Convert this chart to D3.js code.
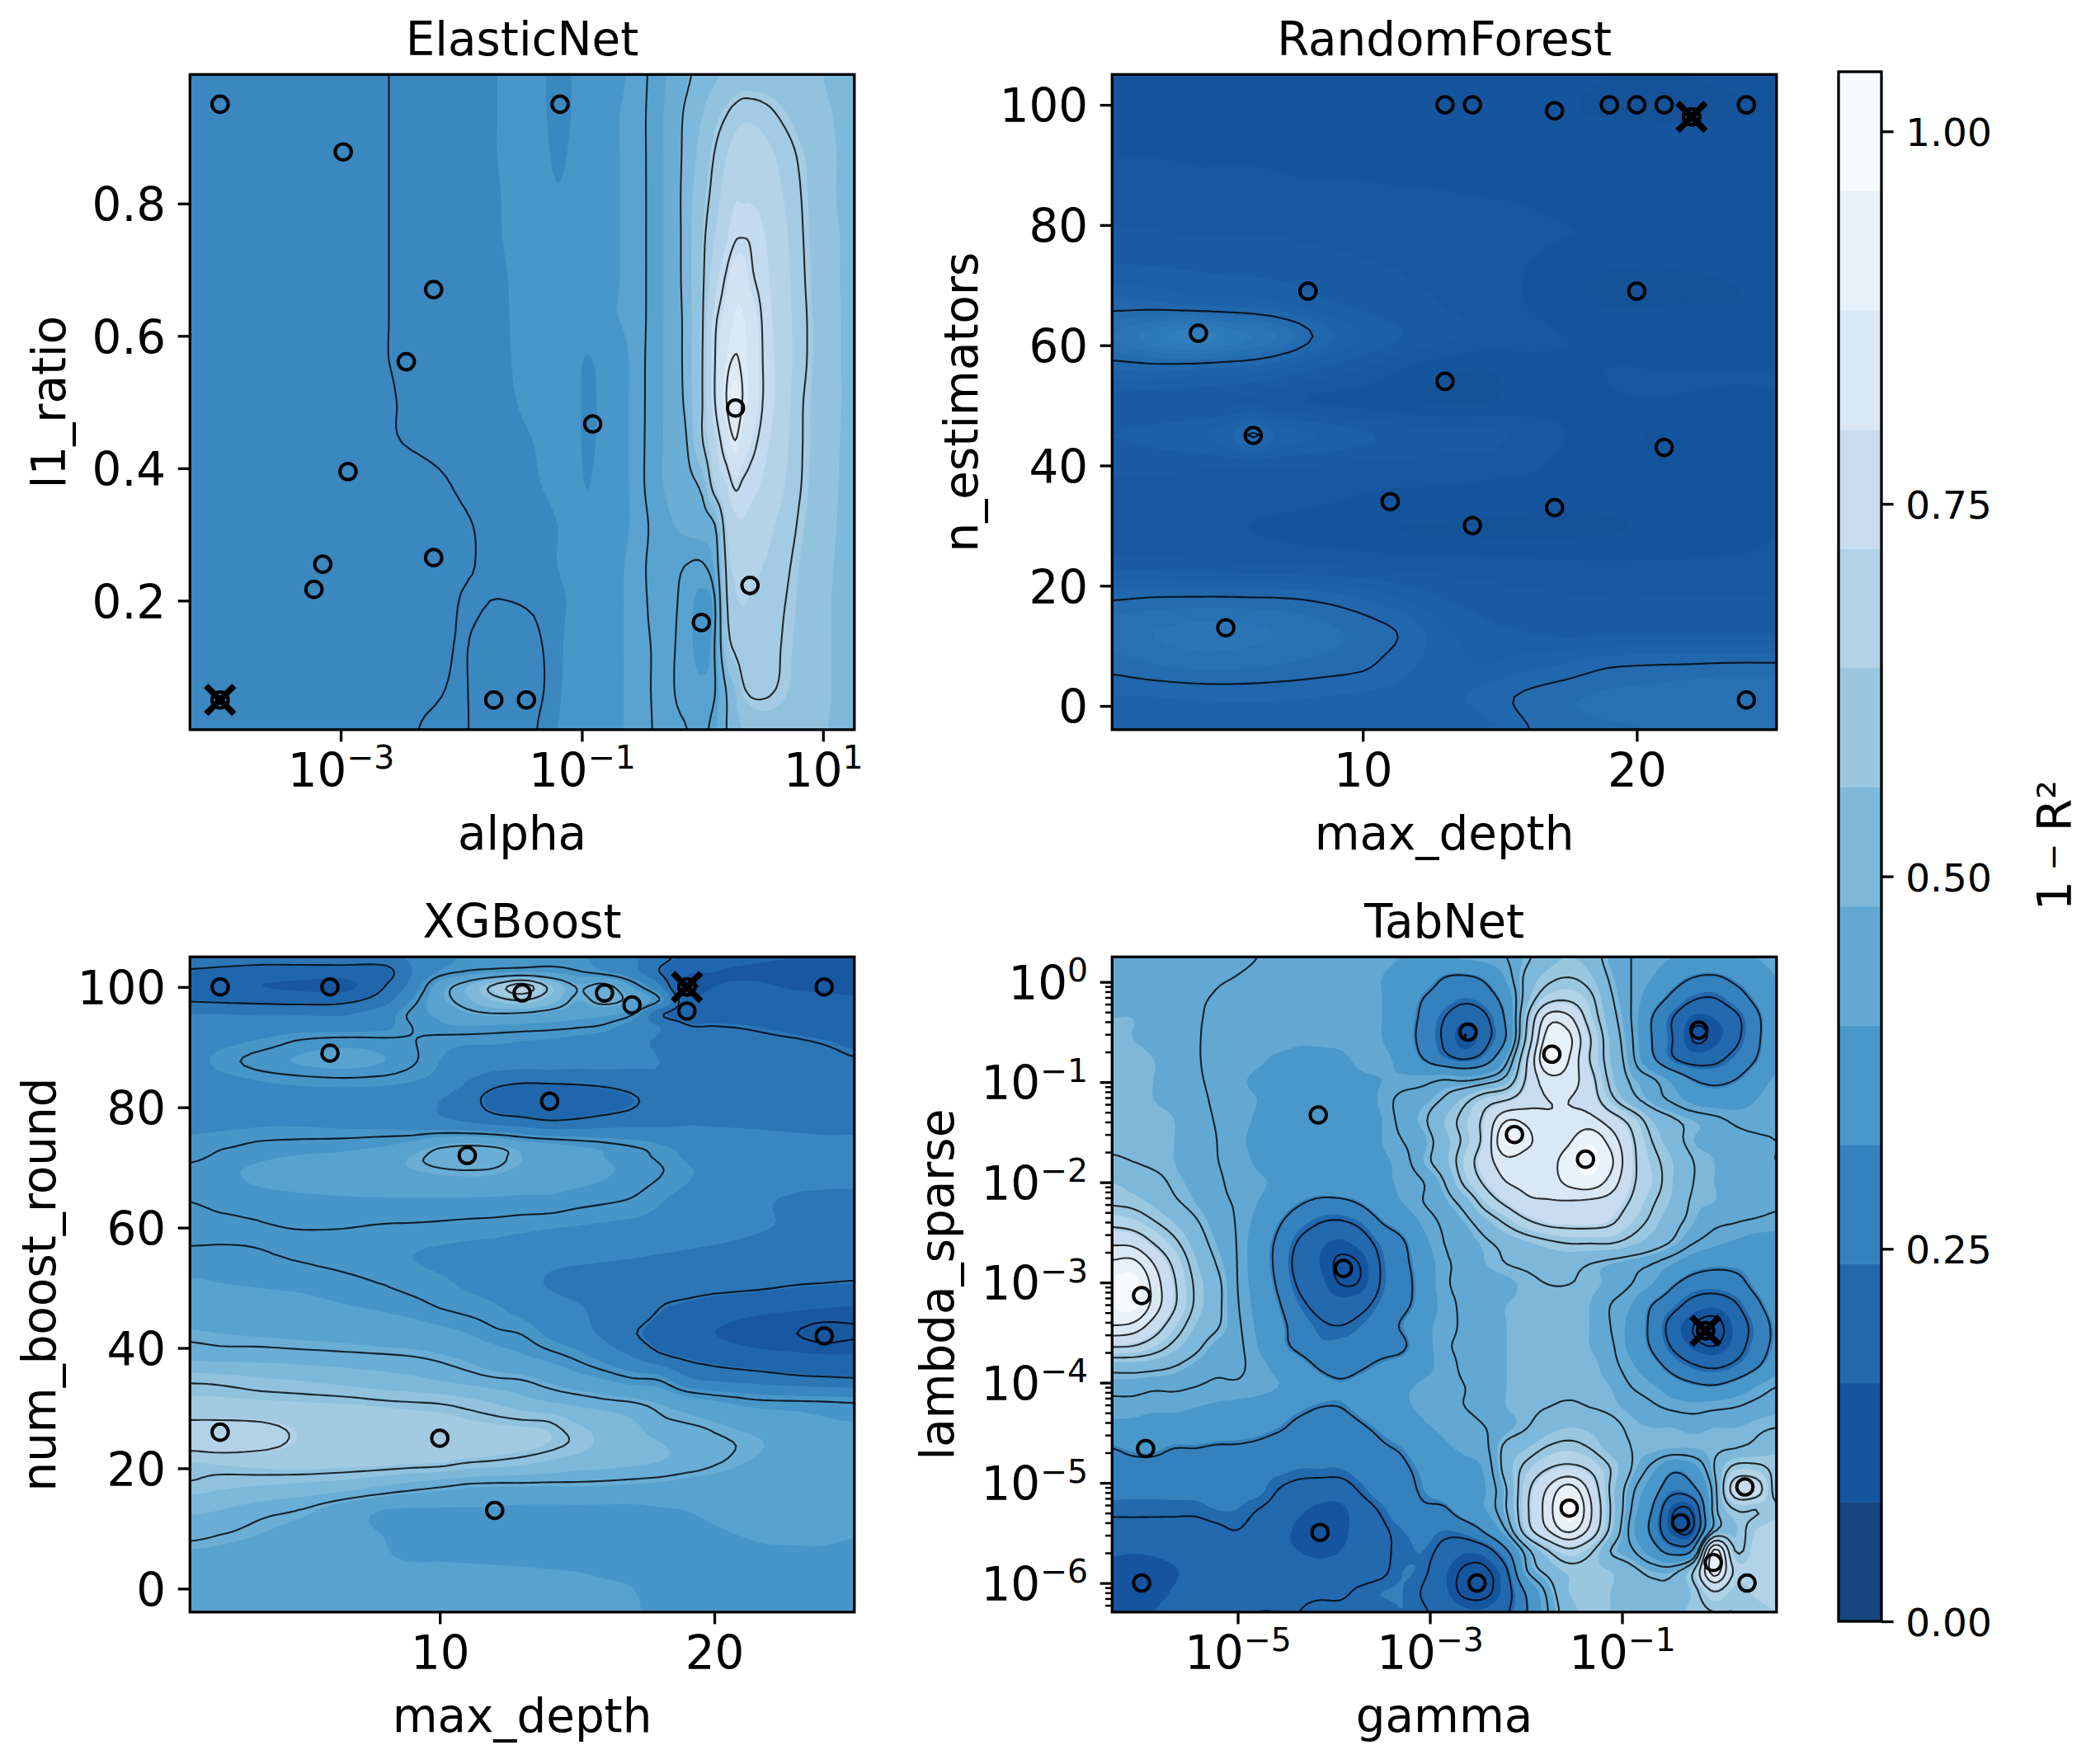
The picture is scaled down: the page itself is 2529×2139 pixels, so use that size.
<!DOCTYPE html>
<html>
<head>
<meta charset="utf-8">
<script src="https://cdn.jsdelivr.net/npm/d3@7"></script>
<style>
	html, body {margin: 0; padding: 0; background: #fff;}
	text {font-family: "DejaVu Sans", sans-serif; fill: #000;}
</style>
</head>
<body>
<svg id="chart" width="2529" height="2139"></svg>
<script>
//Colour bands of the shared colorbar, low to high
var barLevels = [0, 0.08, 0.16, 0.24, 0.32, 0.40, 0.48, 0.56, 0.64, 0.72, 0.80, 0.88, 0.96, 1.04];
var barColors = ["#17457f", "#15559f", "#2269ae", "#3581bd", "#4a98c9", "#62a8d3", "#7db8da", "#9ac7e0", "#b2d2e7", "#c9dcf0", "#dae8f5", "#e7f1fa", "#f7fbff"];
var barTicks = [0, 0.25, 0.5, 0.75, 1];

//ElasticNet samples
var enAlpha = [0.00105, 0.0059, 0.0035, 0.00115, 0.00071, 0.0006, 0.0059, 0.0186, 0.0347, 0.066, 0.123, 0.98, 1.88, 2.48, 0.0001];
var enRatio = [0.878, 0.67, 0.561, 0.395, 0.255, 0.217, 0.265, 0.05, 0.05, 0.95, 0.467, 0.167, 0.491, 0.223, 0.95];
var enBest = [0.0001, 0.05];
var enLevels = [0.275, 0.33, 0.385, 0.44, 0.495, 0.55, 0.605, 0.66, 0.715, 0.77, 0.825, 0.88, 0.935];
var enLines = [0.32, 0.41, 0.5, 0.62, 0.75, 0.85];
//log10(alpha) of the surface columns, l1_ratio of the rows
var enColExp = [-4.25, -3.75, -3.25, -2.9, -2.6, -2.3, -2, -1.7, -1.4, -1.2, -1.05, -0.93, -0.75, -0.55, -0.3, -0.15, 0, 0.1, 0.2, 0.27, 0.33, 0.4, 0.5, 0.65, 0.8, 1, 1.26];
var enRows = [0.995, 0.933, 0.871, 0.809, 0.748, 0.686, 0.624, 0.562, 0.5, 0.438, 0.376, 0.314, 0.252, 0.191, 0.129, 0.067, 0.005];
//1-R2 x 100, top row first
var enGrid = [
	[29.5,29.5,30,31,32,32.3,32.5,33,33.6,32.5,33.3,35,37.5,39.5,44,48.5,52,54,56,57,58,58,58,57.5,57,55,52],
	[29.5,29.5,30,31,32,32.3,32.5,33,33.8,32.4,33.4,35.3,38,39.7,44.5,50.5,55,59,62,64,65,65,64,61.5,59,56,53],
	[29.5,29.5,30,31,32,32.3,32.6,33,34,32.7,33.7,35.5,38,39.7,44.5,51,57,62.3,66,68,69,69,68,65,61.5,57,53],
	[29.5,29.5,30,31,32,32.3,32.6,32.9,34,33.2,34,35.5,38,39.7,44.5,51.5,59,64,68,71,71,71,70,66.5,62.5,57,53],
	[29.5,29.5,30,31,32,32.3,32.6,32.9,33.8,34,34.4,35.6,38,39.7,44.5,51.5,60.5,66,71,74.5,75,74.5,72,68,63,57.5,53.5],
	[29.5,29.5,30,31,32,32.3,32.6,32.8,33.6,34.2,34.5,35.5,38,39.7,44.5,51.5,61,69,76,80,80,76,73,68.5,63.5,57.5,53.5],
	[29.5,29.5,30,31,32,32.3,32.6,32.8,33.5,34.2,34.5,35,38,39.7,44.5,51,61.5,73.5,79,83,83,80,74.5,69,64,58,53.5],
	[29.5,29.5,30,31,32,32.3,32.6,32.8,33.4,34,33.6,32.8,36,39.7,44.5,51,62,74.5,83,85.5,84,81,75,69.5,64,58,53.5],
	[29.5,29.5,30,30.5,31.8,32.5,32.7,32.8,33.2,33.6,33.6,32.3,36,39.7,44.5,50.5,62,74.5,85,90,85,81,75,69.5,63,58,53.5],
	[29.5,29.5,29.8,30.2,31.7,32.3,32.5,32.7,33,33.4,33.5,32.5,36,39.7,44.5,48.5,61.5,70,79,84.5,80,77,73,68.5,62.8,58,53],
	[29.5,29.5,29.7,30,30.5,31.4,32.2,32.5,32.9,33.2,33.5,33,36,39.7,44.5,47.5,52,66,71.5,76,74.5,73,71,67,62.5,57.5,53],
	[29.5,29.5,29.6,29.8,30.3,30.8,31.8,32.3,32.7,33,33.3,34,36,39.5,43,45,46.5,49.5,66,70,71,70,68,65,61.5,57,53],
	[29.5,29.5,29.6,29.8,30.2,30.7,31.8,32.2,32.6,33,33.5,35,37,40,42.5,41,40.5,45,63,67,68,67,66,63.5,60.5,56.5,52.5],
	[29.5,29.5,29.6,29.8,30.2,30.6,32.1,31.9,32.1,32.7,33.4,34.6,37,40,42,40,37.5,40,61,65,66,65.5,64.5,62.5,60,56,52.5],
	[29.5,29.5,29.6,29.8,30.1,31,32.1,31,31.7,32.6,34,35,37,40,41.5,40,37.5,41,58,63,64.5,64,63.5,62,59.5,56,52.5],
	[29.5,29.5,29.6,29.8,30.1,31.3,32.2,30.5,31.5,32.7,34,35,37,40,41.5,40,39,40.5,50.5,55,61,63,63,61.5,59,56,52.5],
	[29.5,29.5,29.6,29.8,30.2,32.3,32.4,30,31.8,33,34,35,37,40,41.5,41.2,40,43,50,53,55,57,58.5,58.5,57.5,55.5,52.5]
];

//RandomForest samples
var rfDepth = [13, 14, 17, 19, 20, 21, 24, 4, 8, 20, 13, 6, 21, 11, 17, 14, 5, 24, 22];
var rfTrees = [100, 100, 99, 100, 100, 100, 100, 62, 69, 69, 54, 45, 43, 34, 33, 30, 13, 1, 98];
var rfBest = [22, 98];
var rfLevels = [0.095, 0.11, 0.125, 0.14, 0.155, 0.17, 0.185, 0.2, 0.215, 0.23, 0.245, 0.26, 0.275];
var rfLines = [0.2];
var rfCols = [0.85, 2.37, 3.87, 5, 6, 7, 8.4, 10, 11.4, 12.9, 14.4, 15.9, 17.4, 18.9, 20.4, 21.9, 23.4, 25.1];
var rfRows = [105.05, 99.6, 94.15, 88.7, 83.25, 77.8, 72.35, 66.9, 61.45, 56, 50.55, 45.1, 39.65, 34.2, 28.75, 23.3, 17.85, 12.4, 6.95, 1.5, -3.95];
var rfGrid = [
	[12,12,12,12,12,12,12,12,12,12,12,12,11.8,11,11,11,11.5,12],
	[12,12,12,12,12,12,12,12,12,12,12,12,11.2,10.6,10.5,10.5,10.7,11],
	[12.2,12.2,12.2,12.2,12.2,12.2,12.2,12.2,12,12,12,12,12,12,11.8,11.8,11.8,11.8],
	[12.8,12.8,12.6,12.6,12.6,12.5,12.4,12.4,12.3,12.3,12.2,12.2,12,12,12,12,12,12],
	[13.6,13.4,13.2,13.2,13.1,13,13,12.9,12.8,12.7,12.6,12.5,12.3,12.2,12.2,12.2,12.1,12],
	[14.4,14.3,14.1,14.1,14,14,13.8,13.5,13.3,13.1,13,12.8,12.5,12.4,12.4,12.4,12.4,12.3],
	[16,15.8,15.5,15.3,15.2,15,14.8,14.3,14,13.5,13,12.5,11.6,11,11,11,11.2,11.5],
	[19,18.8,18.2,18,17.8,17.2,16,15,14.4,14,13.2,12.5,11.6,10.9,10.9,11,11,11.3],
	[23,25.5,27,25.7,24.5,22.8,19.5,17,15.5,14.5,13.5,13,12.5,12.2,12.2,12.2,12.1,12],
	[18.6,18.8,18.5,18.2,17.8,16.8,15.2,14,12.5,11.5,11,11.8,12.3,12.5,12.5,12.5,12.5,12.5],
	[14.5,14.4,14.2,14,13.8,13,12.3,12,11.4,10.8,10.9,11.7,12.2,12.4,12.4,12.4,12.4,12.4],
	[15.5,16,16.7,18,20.2,18,17,15.8,15,14.7,14.5,13.5,12.5,12.2,10.9,11.5,12,12],
	[14.3,14.3,14.2,14.1,14,14,13.8,13.6,13.4,13.2,13,12.8,12,11.7,11.6,11.6,11.8,11.8],
	[13.4,13.3,13.1,13,13,12.9,12.7,12.3,12,12,11.8,11.5,11.3,11.3,11.5,11.6,11.7,12.2],
	[13.2,13.1,13,12.9,12.5,12.3,12,11.7,11,10.9,10.8,10.8,10.8,10.9,11.2,11.5,12,12.5],
	[15,14.9,14.6,14.5,14.3,14.2,14,13.8,13.6,13.4,13.2,13,12.9,12.8,12.8,12.8,12.8,12.8],
	[19.8,20.2,20.3,20.3,20.2,20.1,19.6,18.5,17,15.5,14.8,14.4,14.2,14,14,14,14,14],
	[22.5,23,23.5,23.5,23.3,22.8,22,21,19.8,17.5,16,15.5,15,15,15,15,15,15],
	[20.7,21.5,22,22,21.8,21.5,21,20.4,19,17.8,17,17.8,18.5,19.6,19.9,20,20.2,20.2],
	[18.5,18.5,18.7,18.8,18.8,18.7,18.5,18.2,18,18,19,20.3,21.2,21.8,22,22.5,23,22.8],
	[17.5,17.5,17.5,17.5,17.5,17.5,17.5,17.5,17.5,17.6,17.8,19.8,21,21.3,21.5,21.8,22,22]
];

//XGBoost samples
var xgbDepth = [2, 6, 13, 16, 17, 19, 24, 6, 14, 11, 24, 2, 10, 12, 19];
var xgbRounds = [100, 100, 99, 99, 97, 96, 100, 89, 81, 72, 42, 26, 25, 13, 100];
var xgbBest = [19, 100];
var xgbLevels = [0.105, 0.16, 0.215, 0.27, 0.325, 0.38, 0.435, 0.49, 0.545, 0.6, 0.655, 0.71];
var xgbLines = [0.13, 0.22, 0.35, 0.45, 0.58, 0.66];
var xgbCols = [0.9, 2, 3.5, 5, 6.5, 8, 9, 10, 11, 12, 13, 14, 15, 16, 17, 18, 19, 20, 21.5, 23, 24, 25.1];
var xgbRows = [105, 102.5, 100.1, 97.8, 95.5, 93.3, 91, 87.6, 84.3, 81, 77.3, 73.5, 71.6, 69.2, 65, 60.3, 55.6, 50.8, 46.6, 42.4, 38.6, 34.8, 31, 27.7, 24.4, 21.1, 17.4, 13.1, 8.4, 2.8, -3.9];
var xgbGrid = [
	[27,26,25,25,25,25,28,31,33,34,34.5,34,33,31,28,24,20,18,17,16,16,16],
	[21,20,19,19,19,20,27,33,35.5,37,38,37.5,35.5,33,29,22,17,16,15,14,14,14],
	[19,17,16,15,14,22,29,41,49,60,70,56,44.5,47,38,28,13,16,17,15,14,14],
	[21.5,21,20.5,20,20.5,25,33,42,48,55,58,52,43.5,47,43,35,18,20,20,19,18,17],
	[27,27,26.5,26.5,26.5,30,36,39,43,44.5,44,42,40,39,35.5,23,20,20,20,19,18,18],
	[30,30,30,30.5,30.5,31.5,35,37,37.5,37,36.5,36,35.2,34,30,27,22.5,22.2,21.6,20.5,19.5,19],
	[31,31.5,33,35.5,36.5,36,35.2,33.5,33,33,32.5,32,31,30,28,26.5,25,24,23,22.3,21.7,20.8],
	[31,33.5,36.5,38.5,39.5,38,35.5,32.5,31,30,29.5,29.5,29,29,28,27,26,25,24,23,23,22.3],
	[30,31,32.5,33.5,34,33.5,32.5,31,27,23.8,22.6,22.8,23,23.5,24.5,26.5,26,25.5,24,23.5,23,23],
	[30,30,30,30,30,29.5,29,27,24,20,18,17,18,19.5,21.3,24,26,26.7,26,25,25,25],
	[31.5,31.5,32,32,31.5,31,30,29,27.5,26,25,23.5,24,25,25.5,26,26.7,26.7,26.5,26,26,26],
	[33.5,34.5,35.8,36.3,36.8,38,40,44,45.5,44.5,41,39.5,38,36.5,35,33,31,29.5,29,28.5,28,28],
	[34.5,35.7,37.5,38.5,39,40.5,44,46,47,46,43.5,41,39.5,38,36.3,34.5,32,30.5,30,29.2,28.8,28.5],
	[35.8,37,39,40,41,42,43,44,44.4,44,42,41,40,38.5,37,35.3,33,31.5,31,30,29.5,29],
	[35.3,36.5,37,37.5,37.8,38,38,38,38,37.8,37.5,37.5,36.5,35.8,35,33,31.5,30.5,28,26.5,26,26],
	[33,34,34.8,35.2,35.2,34.8,34.7,34.5,34.2,34,33.5,33,32.5,32,31.5,31,30,29,27.5,26.5,26,26],
	[36,35.8,35.2,34.5,33.8,33,32.5,32,31.5,31,30,29,28.5,28,27.5,27,26.5,26,25.5,25.5,25.5,25.5],
	[38.5,38,37.5,37,36,34.8,33.8,33,32,31,29,26.5,25.5,25,25,24.5,24.5,24,23.5,22.4,22,21.6],
	[41,40.5,40,39.5,38.5,37.5,36.5,35,34,33,31,29.5,27.5,26,25.5,22,20.5,19,17.5,16.5,16,15.5],
	[44,43.5,43,42.5,42,41,40.5,39.5,38,35.8,34.8,31.5,29,26,22.5,20,18,16,14,13,11.8,12.5],
	[47.5,47,47,46.5,46,45.5,45,44,42.5,40.5,38.5,36.5,34,30.5,27,23,21,19.8,18,17,16.5,16.5],
	[57,56.5,55,54,52.5,51,50,48.5,47,45.5,44.8,42.5,40,38,35.5,34.5,28,26,25,23.5,23,22.5],
	[61,61,60.5,60,59.5,58.5,58,57.5,56,54,51,49,47.5,46,45,43,40.5,38.5,36,35.5,35.2,34.7],
	[66.5,66.5,66,64.5,63.5,63,62,61.5,60.5,59.5,58.7,58,54,52,49.5,46,44.8,43.5,41,39.5,38.5,38],
	[70,71,68,65,64,64,64,64,64,63,62,60,57,53,50.5,49,47.5,45.7,44,41,40,39.5],
	[60,61,62,62.5,62,61.5,61,60.5,58.5,57.5,56,54,52,51,50,49,47.5,45.5,43,41,40,39.5],
	[57.5,56,55,54,52.5,50,48,46.5,45,44.5,44.5,44.3,44.3,44,43.5,43,42,41.5,40.5,40,39.5,39],
	[50,49,46.5,44.8,41,37.9,37.5,37.5,37.5,37.5,37,37,37,37,37,37.6,38.1,39,40,40,40,40],
	[45.5,44.5,43,41.5,40,38,37,37,37,37,37,37,37,37,37,37,37,37.5,38.1,38.2,38.2,38],
	[40,40,39.5,39,38.8,38.6,38.5,38.5,38.4,38.3,38.2,38.1,38,37.8,37.8,37.8,37.8,37.8,37.7,37.7,37.7,37.7],
	[40,40,40,40,40,40,40,40,39.8,39.5,39.5,39.5,39.5,39,38.2,37.7,37.5,37.5,37.5,37.5,37.5,37.5]
];

//TabNet samples
var tabGamma = [1e-6, 1.1e-6, 1e-6, 7.2e-5, 6.9e-5, 1.26e-4, 2.5e-3, 3.1e-3, 7.6e-3, 0.0186, 0.0417, 0.0282, 0.407, 0.63, 0.74, 0.89, 1.9, 2];
var tabLambda = [1e-6, 2.2e-5, 7.4e-4, 3.2e-6, 0.047, 1.38e-3, 0.316, 1e-6, 0.03, 0.19, 0.017, 5.6e-6, 4e-6, 0.33, 3.3e-4, 1.6e-6, 9.1e-6, 1e-6];
var tabBest = [0.74, 3.3e-4];
var tabLines = [0.13, 0.22, 0.31, 0.44, 0.5, 0.6, 0.7, 0.8, 0.88];
var tabGrid = [
	[46,46,46,46,46,46,45,44,43,42,42,41,41,41,40,40,40,41,42,44,49,54,56,54,47,44,42,40,38,38,39,40,42],
	[46,46,46,46,46,44.6,43.9,43,42,42,41,41,41,40,38,36,31,30,33,41,52,58,60,57,49,44,40,35,31,30,33,36,40],
	[47,47,47,46,44.7,43.7,43,42,42,42,41,41,41,40,37,31,27,24,27,36,54,66,68,62,51,44,36,29,23,22,27,33,38],
	[48,48,47,45.5,44.4,43.4,43,42,42,42,41,41,41,40,36,29,22,17,21,33,60,84,82,66,53,44,31,22,15,16,20,29,37],
	[49,48,47,45.5,44.3,43.3,43,42,42,41,41,41,41,40,36,28,21,13,20,32,63,92,90,71,55,45,31,22,12.5,14.5,20,29,37],
	[49,49,48,47,44.4,43.3,42.5,41,39,38,38,39,41,41,38,31,25,22,27,42,70,96,88,70,56,46,33,23,19,20,25,31,38],
	[49,49,48,47,44.6,43.2,41,39,37,36,36,37,39,40,41,42,44,43,46,53,72,85,84,74,58,49,45,38,31,29,31,36,41],
	[49,49,48,47,45,43.4,41,40,36,35,34,35,37,41,46,47,51,58,66,70,76,80,80,76,63,53,47,43,38,36,37,40,43],
	[49,49,49,48,45.5,43.8,42,39,35,34,33,34,36,40,46,49,56,63,73,88,86,81,82,83,76,67,56,51,48,46,43,42,43],
	[49,49,49,48,45.8,44.1,41.5,38,35,34,33,34,36,40,44,47,54,62,74,97,90,83,87,95,85,72,60,53,48,47,46,45,44],
	[51,50,49,48,46,44.2,42.5,39,36,35,35,36,37,39,42,48,54,65,76,85,83,85,92,99,90,73,63,56,50,48,46,45,44],
	[56,54,52,49,47,44.7,43,41,39,38,37,38,38,39,41,44,50,62,72,80,82,84,90,93,85,72,64,56,50,48,46,46,45],
	[59,58,55,51,48,45,43.5,40,36,32,29,29,32,37,40,44,47,53,64,72,78,79,79,78,76,69,61,55,49,48,46,46,45],
	[68,66,61,56,51,46.5,43.7,38,32,26,22,21,24,31,35,41,45,48,54,61,68,72,73,73,71,64,58,52,48,45,44,43,42],
	[79,78,70,62,54,48,43.9,36,29.5,21,17,15,18,25,30,38,44,46,49,52,55,58,60,60,60,57,53,49,44,41,39,37,37],
	[90,91,80,68,57,50,44.1,36,29,19,16,12,13.5,23,29,35.5,43,45,48,50,51,52,52,50,48,46,44,40,35,33,33,34,36],
	[99,100,85,71,59,52,44.3,37,30,21,17.5,13,14,23,28,35,43,45,46,47,49,50,50,49,47,44,40,32,27,26,28,33,36],
	[97,99,85,71,59,52,44.7,38,32,24,20,18,20,25,29,35,42,45,47,48,49,49,49,48,44,40,31,25,19,17,21,29,35],
	[88,86,76,65,56,51,45.3,39,34,27,23,22,24,27.5,32,38,42,45,47,48,49,49,49,48,44,38,29,19,13,11,17,25,33],
	[71,70,65,58,52,47,45.5,40,34,29,25,25,26,28,30,37,43,45,47,48,49,49,49,48,45,38,30,21,15,13,18,26,33],
	[53,53,52,50,47,45,45,42,38,35,30,27,30,33,35,38,42,45,47,48,49,49,49,49,46,41,35,28,23,21,24,30,36],
	[46,46,45,45,44,43,43,42,40,38,35,33,35,37,39,41,43,44,47,48,49,49,49,49,48,44,41,36,33,32,35,40,44],
	[42,42,41,41,40,39,38,37,35,33,31,31,34,37,39,41,43,44,46,48,49,50,51,50,49,47,45,43,42,43,44,46,47],
	[38,38,37,37,37,36,35,34,32,29,27,27,30,33,36,39,41,42,44,47,50,54,56,55,52,49,48,48,47,48,48,49,50],
	[31,33,33,31,31,30,30,29,27,26,25,25,27,30,32,36,39,41,43,52,56,61,63,60,54,50,49,48,48,49,50,52,55],
	[27,28,28,27,26,26,26,25,25,24,24,24,26,28,30,33,36,38,41,53,63,70,73,69,60,50,42,33,37,50,63,63,58],
	[25,25,25,25,25,25,25,25,22,20,19,19,23,27,29,32,35,37,40,50,68,81,92,78,59,46,36,25,29,47,75,75,57],
	[23,23,23,23,23,24,24,22,20,17,15,15,19,23,28,30,30,36,40,50,69,84,100,82,60,44,31,14,15,47,60,60,62],
	[20,20,20,20,20,21,22,20,18,15,14,15,18,21,24,26,24,26,33,44.5,66,80,90,78,58,42,29,14,14,48,55,64,66],
	[17,16.5,17,18,19,20,20,19,17,16,15,16,18,21,23,24,20,17,19,30,48,60,68,62,50,45,36,27,33,90,60,66,68],
	[14,13.5,14,15.5,18,20,20,20,19,18,18,18,19,21,24,23,17,12,12,21,44,52,57,57,56,52,48,48,60,92,68,66,68],
	[14.5,14,14.5,16.5,19,19,20,20,21,21,21,21,23,24,24,21.5,17,11.5,11.5,19,33,46,56,57,56,54,52,52,57,70,62,65,67],
	[16,15.5,16,18,20,20,21,22,22,22,23,23,23,23,24,22.5,20,17,17,21,31,44,54,57,56,55,54,55,57,60,60,62,64]
];

var tickFont = 56.3, titleFont = 56.3, barFont = 47;
var drawSteps = 5;

var bandColor = d3.scaleLinear()
	.domain(barColors.map(function(c, i){ return (barLevels[i] + barLevels[i + 1]) / 2; }))
	.range(barColors)
	.clamp(true);

var svg = d3.select("#chart");

//Evenly spaced positions for surfaces sampled on a regular grid
function spaced(from, to, count){
	return d3.range(count).map(function(i){ return from + (to - from) * i / (count - 1); });
}

//Catmull-Rom through four neighbours, so the contour outlines come out round
function cubic(a, b, c, d, t){
	return b + 0.5 * t * (c - a + t * (2 * a - 5 * b + 4 * c - d + t * (3 * (b - c) + d - a)));
}

//Drawing-only refinement of a read grid: every read value stays on the fine grid
function refine(grid, steps){
	var rows = grid.length, cols = grid[0].length;
	var fine = [];
	function at(r, c){
		return grid[Math.max(0, Math.min(rows - 1, r))][Math.max(0, Math.min(cols - 1, c))];
	}
	for (var v = 0; v <= (rows - 1) * steps; v++){
		var r0 = Math.floor(v / steps), tr = v / steps - r0;
		for (var u = 0; u <= (cols - 1) * steps; u++){
			var c0 = Math.floor(u / steps), tc = u / steps - c0;
			var col = [];
			for (var k = -1; k <= 2; k++){
				col.push(cubic(at(r0 + k, c0 - 1), at(r0 + k, c0), at(r0 + k, c0 + 1), at(r0 + k, c0 + 2), tc));
			}
			fine.push(cubic(col[0], col[1], col[2], col[3], tr) / 100);
		}
	}
	return fine;
}

function writeLogLabel(sel){
	sel.each(function(d){
		var exp = Math.round(Math.log10(d));
		var t = d3.select(this).text("10");
		t.append("tspan")
			.attr("font-size", tickFont * 0.7)
			.attr("dy", "-0.55em")
			.text((exp < 0 ? "\u2212" : "") + Math.abs(exp));
	});
}

function styleAxis(g, font){
	g.select(".domain").remove();
	g.selectAll(".tick line").attr("stroke", "#000").attr("stroke-width", 3.3);
	g.selectAll(".tick text").attr("font-size", font).attr("fill", "#000").attr("font-family", "DejaVu Sans");
}

function drawPanel(o){
	var g = svg.append("g").attr("transform", "translate(" + o.left + "," + o.top + ")");
	var w = 805.5, h = 794.5;
	var clipId = "clip-" + o.title;

	g.append("clipPath").attr("id", clipId).append("rect").attr("width", w).attr("height", h);

	var x = (o.logX ? d3.scaleLog() : d3.scaleLinear()).domain(o.xDomain).range([0, w]);
	var y = (o.logY ? d3.scaleLog() : d3.scaleLinear()).domain(o.yDomain).range([h, 0]);

	o.grid.forEach(function(row, i){
		if (row.length !== o.cols.length) throw new Error(o.title + " row " + i + " has " + row.length);
	});
	if (o.grid.length !== o.rows.length) throw new Error(o.title + " rows " + o.grid.length);

	//Index space of d3.contours to pixels: a value sits at index + 0.5
	var colPx = d3.scaleLinear().domain(d3.range(o.cols.length)).range(o.cols.map(x));
	var rowPx = d3.scaleLinear().domain(d3.range(o.rows.length)).range(o.rows.map(y));
	var path = d3.geoPath(d3.geoTransform({
		point: function(px, py){
			this.stream.point(colPx((px - 0.5) / drawSteps), rowPx((py - 0.5) / drawSteps));
		}
	}));

	var flat = refine(o.grid, drawSteps);
	var contours = d3.contours()
		.size([(o.cols.length - 1) * drawSteps + 1, (o.rows.length - 1) * drawSteps + 1]);

	var surface = g.append("g").attr("clip-path", "url(#" + clipId + ")");
	var step = o.levels[1] - o.levels[0];

	surface.append("rect")
		.attr("width", w)
		.attr("height", h)
		.attr("fill", bandColor(o.levels[0] - step / 2));

	o.levels.forEach(function(level, i){
		var next = i < o.levels.length - 1 ? o.levels[i + 1] : level + step;
		surface.append("path")
			.attr("d", path(contours.contour(flat, level)))
			.attr("fill", bandColor((level + next) / 2));
	});

	o.lines.forEach(function(level){
		surface.append("path")
			.attr("d", path(contours.contour(flat, level)))
			.attr("fill", "none")
			.attr("stroke", "#000")
			.attr("stroke-opacity", 0.8)
			.attr("stroke-width", 2.1);
	});

	//Samples
	g.selectAll(".sample")
		.data(d3.range(o.sx.length))
		.enter().append("circle")
		.attr("class", "sample")
		.attr("cx", function(i){ return x(o.sx[i]); })
		.attr("cy", function(i){ return y(o.sy[i]); })
		.attr("r", 9.8)
		.attr("fill", "none")
		.attr("stroke", "#000")
		.attr("stroke-width", 4);

	//Best configuration
	var bx = x(o.best[0]), by = y(o.best[1]);
	g.append("circle").attr("cx", bx).attr("cy", by).attr("r", 9.8)
		.attr("fill", "none").attr("stroke", "#000").attr("stroke-width", 4);
	g.append("path")
		.attr("d", "M" + (bx - 17) + "," + (by - 17) + "L" + (bx + 17) + "," + (by + 17) + "M" + (bx - 17) + "," + (by + 17) + "L" + (bx + 17) + "," + (by - 17))
		.attr("stroke", "#000")
		.attr("stroke-width", 7.5);

	g.append("rect")
		.attr("width", w)
		.attr("height", h)
		.attr("fill", "none")
		.attr("stroke", "#000")
		.attr("stroke-width", 3.3);

	//Axes
	var xAxis = g.append("g")
		.attr("transform", "translate(0," + h + ")")
		.call(d3.axisBottom(x).tickValues(o.xTicks).tickSize(14.6).tickPadding(14.6).tickFormat(o.logX ? function(){ return ""; } : d3.format("d")));
	styleAxis(xAxis, tickFont);
	if (o.logX) xAxis.selectAll(".tick text").call(writeLogLabel);

	var yAxis = g.append("g")
		.call(d3.axisLeft(y).tickValues(o.yTicks).tickSize(14.6).tickPadding(14.6).tickFormat(o.logY ? function(){ return ""; } : (o.yFormat || d3.format("d"))));
	styleAxis(yAxis, tickFont);
	yAxis.selectAll(".tick text").attr("dy", "0.37em");
	if (o.logY) yAxis.selectAll(".tick text").call(writeLogLabel);

	if (o.yMinor){
		var minor = g.append("g")
			.call(d3.axisLeft(y).tickValues(o.yMinor).tickSize(8.3).tickFormat(function(){ return ""; }));
		minor.select(".domain").remove();
		minor.selectAll(".tick line").attr("stroke", "#000").attr("stroke-width", 2.5);
	}

	//Titles
	g.append("text")
		.attr("x", w / 2)
		.attr("y", -23)
		.attr("text-anchor", "middle")
		.attr("font-size", titleFont)
		.text(o.title);
	g.append("text")
		.attr("x", w / 2)
		.attr("y", h + 145)
		.attr("text-anchor", "middle")
		.attr("font-size", tickFont)
		.text(o.xLabel);
	g.append("text")
		.attr("transform", "translate(" + (o.yLabelX - o.left) + "," + (h / 2) + ")rotate(-90)")
		.attr("text-anchor", "middle")
		.attr("font-size", tickFont)
		.text(o.yLabel);
}

drawPanel({
	title: "ElasticNet", xLabel: "alpha", yLabel: "l1_ratio",
	left: 230.3, top: 90.3, yLabelX: 79,
	logX: true, xDomain: [Math.pow(10, -4.25), Math.pow(10, 1.26)], yDomain: [0.005, 0.995],
	xTicks: [1e-3, 1e-1, 10], yTicks: [0.2, 0.4, 0.6, 0.8], yFormat: d3.format(".1f"),
	cols: enColExp.map(function(e){ return Math.pow(10, e); }), rows: enRows, grid: enGrid,
	levels: enLevels, lines: enLines, sx: enAlpha, sy: enRatio, best: enBest
});

drawPanel({
	title: "RandomForest", xLabel: "max_depth", yLabel: "n_estimators",
	left: 1348.3, top: 90.3, yLabelX: 1185,
	xDomain: [0.85, 25.1], yDomain: [-3.95, 105.05],
	xTicks: [10, 20], yTicks: [0, 20, 40, 60, 80, 100],
	cols: rfCols, rows: rfRows, grid: rfGrid,
	levels: rfLevels, lines: rfLines, sx: rfDepth, sy: rfTrees, best: rfBest
});

drawPanel({
	title: "XGBoost", xLabel: "max_depth", yLabel: "num_boost_round",
	left: 230.3, top: 1160.3, yLabelX: 67,
	xDomain: [0.9, 25.1], yDomain: [-3.9, 105],
	xTicks: [10, 20], yTicks: [0, 20, 40, 60, 80, 100],
	cols: xgbCols, rows: xgbRows, grid: xgbGrid,
	levels: xgbLevels, lines: xgbLines, sx: xgbDepth, sy: xgbRounds, best: xgbBest
});

var tabMinor = [];
d3.range(-7, 1).forEach(function(e){
	d3.range(2, 10).forEach(function(m){
		var v = m * Math.pow(10, e);
		if (v > Math.pow(10, -6.29) && v < Math.pow(10, 0.25)) tabMinor.push(v);
	});
});

drawPanel({
	title: "TabNet", xLabel: "gamma", yLabel: "lambda_sparse",
	left: 1348.3, top: 1160.3, yLabelX: 1156,
	logX: true, logY: true,
	xDomain: [Math.pow(10, -6.307), Math.pow(10, 0.608)], yDomain: [Math.pow(10, -6.29), Math.pow(10, 0.25)],
	xTicks: [1e-5, 1e-3, 1e-1], yTicks: [1e-6, 1e-5, 1e-4, 1e-3, 1e-2, 1e-1, 1], yMinor: tabMinor,
	cols: spaced(-6.307, 0.608, 33).map(function(e){ return Math.pow(10, e); }),
	rows: spaced(0.25, -6.29, 33).map(function(e){ return Math.pow(10, e); }),
	grid: tabGrid,
	levels: barLevels.slice(0, 13), lines: tabLines, sx: tabGamma, sy: tabLambda, best: tabBest
});

//Colorbar
var barTop = 87, barBottom = 1966, barLeft = 2229, barWidth = 52;
var barScale = d3.scaleLinear().domain([0, 1.04]).range([barBottom, barTop]);
var bar = svg.append("g");

bar.selectAll(".band")
	.data(barColors)
	.enter().append("rect")
	.attr("class", "band")
	.attr("x", barLeft)
	.attr("width", barWidth)
	.attr("y", function(d, i){ return barScale(barLevels[i + 1]); })
	.attr("height", function(d, i){ return barScale(barLevels[i]) - barScale(barLevels[i + 1]) + 0.5; })
	.attr("fill", function(d){ return d; });

bar.append("rect")
	.attr("x", barLeft)
	.attr("y", barTop)
	.attr("width", barWidth)
	.attr("height", barBottom - barTop)
	.attr("fill", "none")
	.attr("stroke", "#000")
	.attr("stroke-width", 3.3);

var barAxis = bar.append("g")
	.attr("transform", "translate(" + (barLeft + barWidth) + ",0)")
	.call(d3.axisRight(barScale).tickValues(barTicks).tickSize(14.6).tickPadding(14.6).tickFormat(d3.format(".2f")));
styleAxis(barAxis, barFont);
barAxis.selectAll(".tick text").attr("dy", "0.37em");

var barLabel = bar.append("text")
	.attr("transform", "translate(2511,1025)rotate(-90)")
	.attr("text-anchor", "middle")
	.attr("font-size", 57);
barLabel.append("tspan").text("1");
barLabel.append("tspan").attr("font-size", 40).attr("dx", 12).attr("dy", -8.5).text("\u2212");
barLabel.append("tspan").attr("dx", 14).attr("dy", 8.5).text("R\u00b2");
</script>
</body>
</html>
